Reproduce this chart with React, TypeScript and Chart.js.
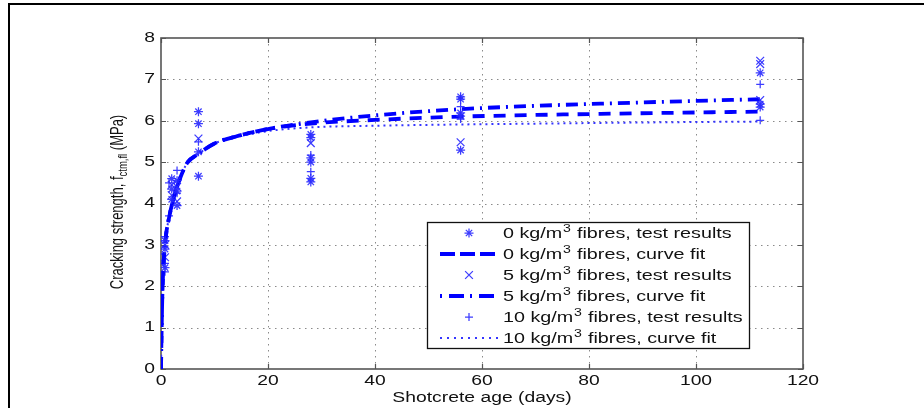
import { useEffect, useRef } from "react";
import { Chart, registerables } from "chart.js";

Chart.register(...registerables);

// ---- data ----
const xTickLabels = [0, 20, 40, 60, 80, 100, 120];
const yTickLabels = [0, 1, 2, 3, 4, 5, 6, 7, 8];

const fitAges = [0, 0.05, 0.1, 0.2, 0.3, 0.5, 0.75, 1, 1.5, 2, 3, 4, 5, 7, 10, 14, 20, 28, 40, 56, 70, 84, 100, 112];
const fit0 = [0, 0.45, 0.8, 1.5, 2.0, 2.6, 3.0, 3.3, 3.65, 3.95, 4.4, 4.75, 5.0, 5.2, 5.45, 5.62, 5.8, 5.93, 6.02, 6.1, 6.14, 6.17, 6.2, 6.22];
const fit5 = [0, 0.45, 0.8, 1.5, 2.0, 2.6, 3.0, 3.3, 3.65, 3.95, 4.4, 4.75, 5.0, 5.2, 5.45, 5.62, 5.8, 5.96, 6.13, 6.28, 6.36, 6.42, 6.48, 6.52];
const fit10 = [0, 0.45, 0.8, 1.5, 2.0, 2.6, 3.0, 3.3, 3.65, 3.95, 4.4, 4.75, 5.0, 5.2, 5.45, 5.6, 5.75, 5.84, 5.88, 5.91, 5.93, 5.95, 5.97, 5.98];

const test0Ages = [0.75, 0.75, 0.75, 2, 2, 2, 3, 3, 3, 7, 7, 7, 7, 28, 28, 28, 28, 28, 28, 56, 56, 56, 56, 56, 112, 112, 112];
const test0Values = [3.1, 2.9, 2.45, 4.6, 4.35, 4.1, 4.55, 4.3, 3.95, 6.22, 5.93, 5.25, 4.66, 5.67, 5.59, 5.1, 5.0, 4.61, 4.52, 6.58, 6.52, 6.19, 6.11, 5.29, 7.16, 6.4, 6.33];

const test5Ages = [0.75, 0.75, 2, 2, 3, 3, 7, 28, 56, 112, 112, 112];
const test5Values = [3.0, 2.7, 4.45, 4.2, 4.4, 4.05, 5.57, 5.46, 5.48, 7.45, 7.37, 6.5];

const test10Ages = [0.75, 0.75, 0.75, 1.5, 1.5, 3, 3, 7, 28, 28, 56, 56, 112, 112];
const test10Values = [3.2, 2.55, 2.35, 4.5, 3.7, 4.8, 4.25, 5.49, 5.17, 4.77, 6.34, 6.04, 6.88, 6.01];

const legendLabels = [
  ["0 kg/m", "3", " fibres, test results"],
  ["0 kg/m", "3", " fibres, curve fit"],
  ["5 kg/m", "3", " fibres, test results"],
  ["5 kg/m", "3", " fibres, curve fit"],
  ["10 kg/m", "3", " fibres, test results"],
  ["10 kg/m", "3", " fibres, curve fit"],
];

const BLUE = "#0000ff";
const MARK = "rgba(40,40,255,0.9)";
const FONT = '"Liberation Sans", Arial, sans-serif';
const SX = 1.38;
const SXL = 1.41;
const TEXT = "#111";

function pts(xs: number[], ys: number[]) {
  return xs.map((x, i) => ({ x, y: ys[i] }));
}

function sText(ctx: CanvasRenderingContext2D, t: string, x: number, y: number, align: CanvasTextAlign) {
  ctx.save();
  ctx.translate(x, y);
  ctx.scale(SX, 1);
  ctx.textAlign = align;
  ctx.fillText(t, 0, 0);
  ctx.restore();
}

const decorPlugin = {
  id: "decor",
  beforeDatasetsDraw(chart: any) {
    const ctx: CanvasRenderingContext2D = chart.ctx;
    const a = chart.chartArea;
    const xs = chart.scales.x;
    const ys = chart.scales.y;
    ctx.save();
    // outer frame
    ctx.fillStyle = "#000";
    ctx.fillRect(8, 3, 2, 405);
    ctx.fillRect(8, 3, 916, 2);
    // grid
    ctx.strokeStyle = "#8a8a8a";
    ctx.lineWidth = 1;
    ctx.setLineDash([1.5, 4.5]);
    xTickLabels.forEach((v) => {
      if (v === 0 || v === 120) return;
      const px = Math.round(xs.getPixelForValue(v)) + 0.5;
      ctx.beginPath();
      ctx.moveTo(px, a.top);
      ctx.lineTo(px, a.bottom);
      ctx.stroke();
    });
    yTickLabels.forEach((v) => {
      if (v === 0 || v === 8) return;
      const py = Math.round(ys.getPixelForValue(v)) + 0.5;
      ctx.beginPath();
      ctx.moveTo(a.left, py);
      ctx.lineTo(a.right, py);
      ctx.stroke();
    });
    ctx.setLineDash([]);
    // inner ticks
    ctx.strokeStyle = "#555";
    ctx.lineWidth = 1.2;
    xTickLabels.forEach((v) => {
      const px = Math.round(xs.getPixelForValue(v)) + 0.5;
      ctx.beginPath();
      ctx.moveTo(px, a.bottom);
      ctx.lineTo(px, a.bottom - 5);
      ctx.moveTo(px, a.top);
      ctx.lineTo(px, a.top + 5);
      ctx.stroke();
    });
    yTickLabels.forEach((v) => {
      const py = Math.round(ys.getPixelForValue(v)) + 0.5;
      ctx.beginPath();
      ctx.moveTo(a.left, py);
      ctx.lineTo(a.left + 5, py);
      ctx.moveTo(a.right, py);
      ctx.lineTo(a.right - 5, py);
      ctx.stroke();
    });
    // box
    ctx.strokeStyle = "#555";
    ctx.lineWidth = 1.6;
    ctx.strokeRect(a.left, a.top, a.right - a.left, a.bottom - a.top);
    ctx.restore();
  },
  afterDatasetsDraw(chart: any) {
    const ctx: CanvasRenderingContext2D = chart.ctx;
    const a = chart.chartArea;
    const xs = chart.scales.x;
    const ys = chart.scales.y;
    ctx.save();
    ctx.fillStyle = TEXT;
    ctx.font = `14px ${FONT}`;
    ctx.textBaseline = "middle";
    xTickLabels.forEach((v) => {
      sText(ctx, String(v), xs.getPixelForValue(v), a.bottom + 12, "center");
    });
    yTickLabels.forEach((v) => {
      sText(ctx, String(v), a.left - 6, ys.getPixelForValue(v), "right");
    });
    ctx.textBaseline = "alphabetic";
    sText(ctx, "Shotcrete age (days)", (a.left + a.right) / 2, 401.5, "center");

    // y title, rotated with subscript
    const p1 = "Cracking strength, f";
    const p2 = "ctm,fl";
    const p3 = " (MPa)";
    ctx.save();
    ctx.translate(123, 202);
    ctx.scale(SX, 1);
    ctx.rotate(-Math.PI / 2);
    ctx.font = `13px ${FONT}`;
    const w1 = ctx.measureText(p1).width;
    const w3 = ctx.measureText(p3).width;
    ctx.font = `9.5px ${FONT}`;
    const w2 = ctx.measureText(p2).width;
    const x0 = -(w1 + w2 + w3) / 2;
    ctx.textAlign = "left";
    ctx.font = `13px ${FONT}`;
    ctx.fillText(p1, x0, 0);
    ctx.font = `9.5px ${FONT}`;
    ctx.fillText(p2, x0 + w1, 3);
    ctx.font = `13px ${FONT}`;
    ctx.fillText(p3, x0 + w1 + w2, 0);
    ctx.restore();

    // legend
    const L = 427, T = 222, R = 749, B = 348;
    ctx.fillStyle = "#fff";
    ctx.fillRect(L, T, R - L, B - T);
    ctx.strokeStyle = "#111";
    ctx.lineWidth = 1.3;
    ctx.strokeRect(L + 0.5, T + 0.5, R - L, B - T);
    const rows = [233, 254, 275, 296, 317, 338];
    const sampleL = 440, sampleR = 498, sampleC = 469;
    chart.data.datasets.forEach((ds: any, i: number) => {
      const cy = rows[i];
      ctx.save();
      if (ds.showLine) {
        ctx.strokeStyle = ds.borderColor;
        ctx.lineWidth = ds.borderWidth;
        ctx.setLineDash(ds.legendDash);
        ctx.beginPath();
        ctx.moveTo(sampleL, cy);
        ctx.lineTo(sampleR, cy);
        ctx.stroke();
      } else {
        ctx.strokeStyle = ds.borderColor;
        ctx.lineWidth = ds.pointBorderWidth;
        const r = ds.pointRadius;
        ctx.beginPath();
        if (ds.pointStyle === "star" || ds.pointStyle === "cross") {
          ctx.moveTo(sampleC - r, cy);
          ctx.lineTo(sampleC + r, cy);
          ctx.moveTo(sampleC, cy - r);
          ctx.lineTo(sampleC, cy + r);
        }
        if (ds.pointStyle === "star" || ds.pointStyle === "crossRot") {
          const d = r * Math.SQRT1_2;
          ctx.moveTo(sampleC - d, cy - d);
          ctx.lineTo(sampleC + d, cy + d);
          ctx.moveTo(sampleC - d, cy + d);
          ctx.lineTo(sampleC + d, cy - d);
        }
        ctx.stroke();
      }
      ctx.restore();
      const parts = legendLabels[i];
      ctx.fillStyle = TEXT;
      ctx.save();
      ctx.translate(503, cy + 5);
      ctx.scale(SXL, 1);
      ctx.textAlign = "left";
      ctx.font = `14px ${FONT}`;
      ctx.fillText(parts[0], 0, 0);
      const wa = ctx.measureText(parts[0]).width;
      ctx.font = `10px ${FONT}`;
      ctx.fillText(parts[1], wa + 0.5, -6);
      const wb = ctx.measureText(parts[1]).width;
      ctx.font = `14px ${FONT}`;
      ctx.fillText(parts[2], wa + wb + 1, 0);
      ctx.restore();
    });
    ctx.restore();
  },
};

export default function App() {
  const ref = useRef<HTMLCanvasElement | null>(null);
  useEffect(() => {
    if (!ref.current) return;
    const pointDs = (label: string, xs: number[], ys: number[], style: string, r: number) => ({
      label,
      data: pts(xs, ys),
      showLine: false,
      pointStyle: style,
      pointRadius: r,
      pointBorderWidth: 1.25,
      borderColor: MARK,
      backgroundColor: "rgba(0,0,0,0)",
    });
    const lineDs = (label: string, ys: number[], width: number, dash: number[], legendDash: number[], color: string) => ({
      label,
      data: pts(fitAges, ys),
      showLine: true,
      borderColor: color,
      borderWidth: width,
      borderDash: dash,
      legendDash,
      pointRadius: 0,
      cubicInterpolationMode: "monotone",
      fill: false,
    });
    const chart = new Chart(ref.current, {
      type: "scatter",
      data: {
        datasets: [
          pointDs("0 kg/m3 fibres, test results", test0Ages, test0Values, "star", 4.5),
          lineDs("0 kg/m3 fibres, curve fit", fit0, 3.8, [12, 9], [15, 5], BLUE),
          pointDs("5 kg/m3 fibres, test results", test5Ages, test5Values, "crossRot", 5.5),
          lineDs("5 kg/m3 fibres, curve fit", fit5, 3.8, [12, 6, 2, 6], [2, 7, 15, 6], BLUE),
          pointDs("10 kg/m3 fibres, test results", test10Ages, test10Values, "cross", 4),
          lineDs("10 kg/m3 fibres, curve fit", fit10, 2, [2, 4], [2, 5], "#3535ff"),
        ] as any,
      },
      options: {
        responsive: false,
        animation: false,
        devicePixelRatio: 1,
        events: [],
        layout: { padding: { left: 161, right: 121, top: 38, bottom: 39 } },
        plugins: { legend: { display: false }, tooltip: { enabled: false } },
        scales: {
          x: {
            type: "linear",
            min: 0,
            max: 120,
            ticks: { display: false, stepSize: 20 },
            grid: { display: false },
            border: { display: false },
            afterFit: (s: any) => { s.height = 0; },
          },
          y: {
            type: "linear",
            min: 0,
            max: 8,
            ticks: { display: false, stepSize: 1 },
            grid: { display: false },
            border: { display: false },
            afterFit: (s: any) => { s.width = 0; },
          },
        },
      } as any,
      plugins: [decorPlugin],
    });
    return () => chart.destroy();
  }, []);
  return (
    <canvas
      ref={ref}
      width={924}
      height={408}
      style={{ position: "absolute", left: 0, top: 0, width: 924, height: 408 }}
    />
  );
}
